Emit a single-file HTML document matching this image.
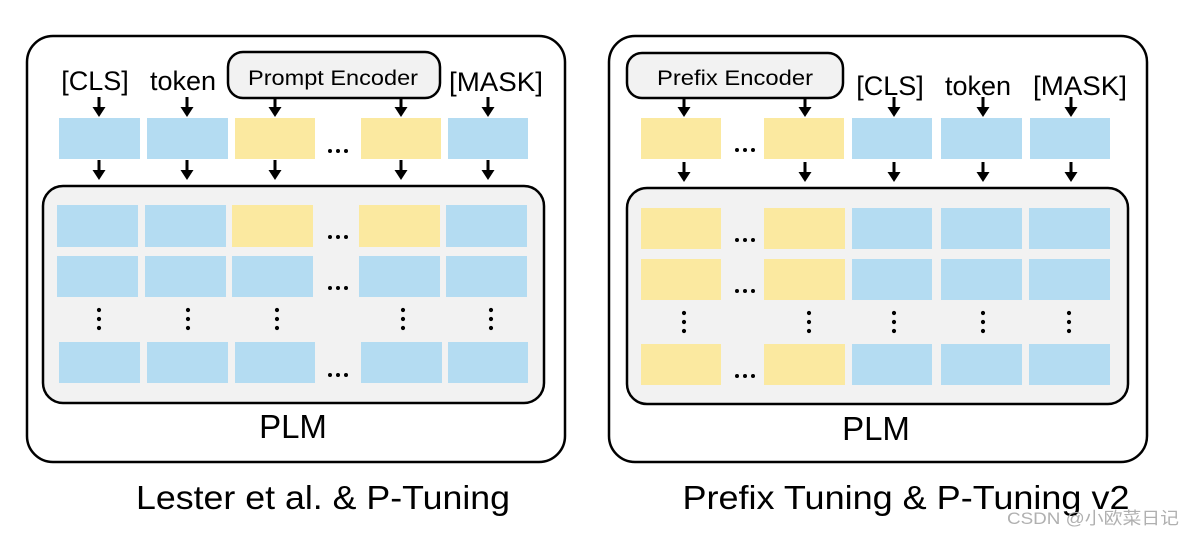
<!DOCTYPE html>
<html><head><meta charset="utf-8"><style>
html,body{margin:0;padding:0;background:#fff;}
svg{display:block;}
text{font-family:"Liberation Sans","Noto Sans CJK SC",sans-serif;fill:#000;}
</style></head><body>
<svg width="1194" height="534" viewBox="0 0 1194 534" xmlns="http://www.w3.org/2000/svg">
<defs>
<g id="ar"><line x1="0" y1="-20" x2="0" y2="-8" stroke="#000" stroke-width="3"/><polygon points="-6.5,-10 6.5,-10 0,0" fill="#000"/></g>
<g id="el" fill="#000"><circle cx="-8" cy="0" r="2"/><circle cx="0" cy="0" r="2"/><circle cx="8" cy="0" r="2"/></g>
<g id="vd" fill="#000"><circle cx="0" cy="-9" r="2.1"/><circle cx="0" cy="0" r="2.1"/><circle cx="0" cy="9" r="2.1"/></g>
</defs>
<!-- LEFT PANEL -->
<rect x="27" y="36" width="538" height="426" rx="26" fill="#fff" stroke="#000" stroke-width="2.5"/>
<rect x="43" y="186" width="501" height="217" rx="20" fill="#f2f2f2" stroke="#000" stroke-width="2.5"/>
<rect x="228" y="52" width="212" height="46" rx="15" fill="#f2f2f2" stroke="#000" stroke-width="2.5"/>
<text x="333" y="85" font-size="21" text-anchor="middle" textLength="170" lengthAdjust="spacingAndGlyphs">Prompt Encoder</text>
<text x="95" y="90" font-size="27" text-anchor="middle">[CLS]</text>
<text x="183" y="90" font-size="27" text-anchor="middle">token</text>
<text x="496" y="91" font-size="27" text-anchor="middle" textLength="94" lengthAdjust="spacingAndGlyphs">[MASK]</text>
<g fill="#b4dcf2">
<rect x="59" y="118" width="81" height="41"/><rect x="147" y="118" width="81" height="41"/><rect x="448" y="118" width="80" height="41"/>
</g>
<g fill="#fbe9a0"><rect x="235" y="118" width="80" height="41"/><rect x="361" y="118" width="80" height="41"/></g>
<use href="#ar" x="99" y="117"/><use href="#ar" x="187" y="117"/><use href="#ar" x="275" y="117"/><use href="#ar" x="401" y="117"/><use href="#ar" x="488" y="117"/>
<use href="#ar" x="99" y="180"/><use href="#ar" x="187" y="180"/><use href="#ar" x="275" y="180"/><use href="#ar" x="401" y="180"/><use href="#ar" x="488" y="180"/>
<g fill="#b4dcf2">
<rect x="57" y="205" width="81" height="42"/><rect x="145" y="205" width="81" height="42"/><rect x="446" y="205" width="81" height="42"/>
<rect x="57" y="256" width="81" height="41"/><rect x="145" y="256" width="81" height="41"/><rect x="232" y="256" width="81" height="41"/><rect x="359" y="256" width="81" height="41"/><rect x="446" y="256" width="81" height="41"/>
<rect x="59" y="342" width="81" height="41"/><rect x="147" y="342" width="81" height="41"/><rect x="235" y="342" width="80" height="41"/><rect x="361" y="342" width="81" height="41"/><rect x="448" y="342" width="80" height="41"/>
</g>
<g fill="#fbe9a0"><rect x="232" y="205" width="81" height="42"/><rect x="359" y="205" width="81" height="42"/></g>
<use href="#el" x="338" y="151"/><use href="#el" x="338" y="237"/><use href="#el" x="338" y="288"/><use href="#el" x="338" y="375"/>
<use href="#vd" x="99" y="319"/><use href="#vd" x="188" y="319"/><use href="#vd" x="277" y="319"/><use href="#vd" x="403" y="319"/><use href="#vd" x="491" y="319"/>
<text x="293" y="438" font-size="33" text-anchor="middle">PLM</text>
<text x="323" y="509" font-size="33" text-anchor="middle" textLength="374" lengthAdjust="spacingAndGlyphs">Lester et al. &amp; P-Tuning</text>

<!-- RIGHT PANEL -->
<rect x="609" y="36" width="538" height="426" rx="26" fill="#fff" stroke="#000" stroke-width="2.5"/>
<rect x="627" y="188" width="501" height="216" rx="20" fill="#f2f2f2" stroke="#000" stroke-width="2.5"/>
<rect x="627" y="53" width="216" height="45" rx="15" fill="#f2f2f2" stroke="#000" stroke-width="2.5"/>
<text x="735" y="85" font-size="21" text-anchor="middle" textLength="156" lengthAdjust="spacingAndGlyphs">Prefix Encoder</text>
<text x="890" y="95" font-size="27" text-anchor="middle">[CLS]</text>
<text x="978" y="95" font-size="27" text-anchor="middle">token</text>
<text x="1080" y="95" font-size="27" text-anchor="middle" textLength="94" lengthAdjust="spacingAndGlyphs">[MASK]</text>
<g fill="#fbe9a0"><rect x="641" y="118" width="80" height="41"/><rect x="764" y="118" width="80" height="41"/>
<rect x="641" y="208" width="80" height="41"/><rect x="764" y="208" width="81" height="41"/>
<rect x="641" y="259" width="80" height="41"/><rect x="764" y="259" width="81" height="41"/>
<rect x="641" y="344" width="80" height="41"/><rect x="764" y="344" width="81" height="41"/></g>
<g fill="#b4dcf2">
<rect x="852" y="118" width="80" height="41"/><rect x="941" y="118" width="81" height="41"/><rect x="1030" y="118" width="80" height="41"/>
<rect x="852" y="208" width="80" height="41"/><rect x="941" y="208" width="81" height="41"/><rect x="1029" y="208" width="81" height="41"/>
<rect x="852" y="259" width="80" height="41"/><rect x="941" y="259" width="81" height="41"/><rect x="1029" y="259" width="81" height="41"/>
<rect x="852" y="344" width="80" height="41"/><rect x="941" y="344" width="81" height="41"/><rect x="1029" y="344" width="81" height="41"/>
</g>
<use href="#ar" x="684" y="117"/><use href="#ar" x="805" y="117"/><use href="#ar" x="894" y="117"/><use href="#ar" x="983" y="117"/><use href="#ar" x="1071" y="117"/>
<use href="#ar" x="684" y="182"/><use href="#ar" x="805" y="182"/><use href="#ar" x="894" y="182"/><use href="#ar" x="983" y="182"/><use href="#ar" x="1071" y="182"/>
<use href="#el" x="745" y="150"/><use href="#el" x="745" y="240"/><use href="#el" x="745" y="291"/><use href="#el" x="745" y="376"/>
<use href="#vd" x="684" y="322"/><use href="#vd" x="809" y="322"/><use href="#vd" x="894" y="322"/><use href="#vd" x="983" y="322"/><use href="#vd" x="1069" y="322"/>
<text x="876" y="440" font-size="33" text-anchor="middle">PLM</text>
<text x="906" y="509" font-size="33" text-anchor="middle" textLength="447" lengthAdjust="spacingAndGlyphs">Prefix Tuning &amp; P-Tuning v2</text>
<text x="1007" y="524" font-size="17" style="fill:#b0b0b0" textLength="172" lengthAdjust="spacingAndGlyphs">CSDN @小欧菜日记</text>
</svg>
</body></html>
